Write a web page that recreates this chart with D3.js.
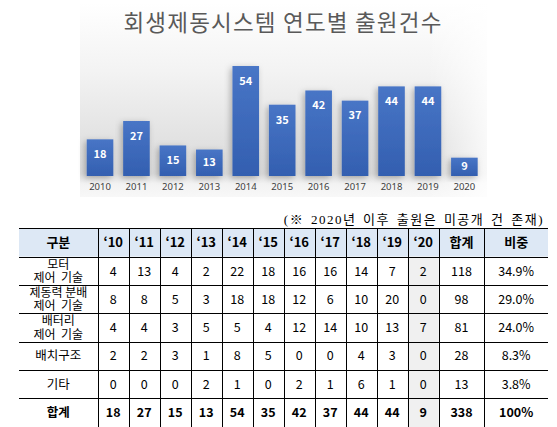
<!DOCTYPE html>
<html>
<head>
<meta charset="utf-8">
<script src="https://cdn.jsdelivr.net/npm/d3@7"></script>
<style>
  body { margin: 0; background: #fff; }
  svg { display: block; font-family: "Noto Sans CJK KR", "Noto Sans", sans-serif; }
</style>
</head>
<body>
<div id="chart"></div>
<script>
// chart data
var years = ['2010', '2011', '2012', '2013', '2014', '2015', '2016', '2017', '2018', '2019', '2020'];
var totals = [18, 27, 15, 13, 54, 35, 42, 37, 44, 44, 9];

// table data
var yearHeads = ['‘10', '‘11', '‘12', '‘13', '‘14', '‘15', '‘16', '‘17', '‘18', '‘19', '‘20'];
var categories = [['모터', '제어\u00a0\u00a0기술'], ['제동력 분배', '제어\u00a0\u00a0기술'], ['배터리', '제어\u00a0\u00a0기술'], ['배치구조'], ['기타']];
var motor = [4, 13, 4, 2, 22, 18, 16, 16, 14, 7, 2];
var braking = [8, 8, 5, 3, 18, 18, 12, 6, 10, 20, 0];
var battery = [4, 4, 3, 5, 5, 4, 12, 14, 10, 13, 7];
var placement = [2, 2, 3, 1, 8, 5, 0, 0, 4, 3, 0];
var others = [0, 0, 0, 2, 1, 0, 2, 1, 6, 1, 0];
var rowSums = [118, 98, 81, 28, 13];
var shares = ['34.9%', '29.0%', '24.0%', '8.3%', '3.8%'];
var grandTotal = 338;
var grandShare = '100%';

var W = 557, H = 427;

var svg = d3.select('#chart').append('svg')
    .attr('width', W)
    .attr('height', H);

var defs = svg.append('defs');

var bg = defs.append('linearGradient').attr('id', 'bg')
    .attr('x1', 0).attr('y1', 0).attr('x2', 0).attr('y2', 1);
bg.append('stop').attr('offset', '0%').attr('stop-color', '#ffffff');
bg.append('stop').attr('offset', '35%').attr('stop-color', '#f3f3f3');
bg.append('stop').attr('offset', '70%').attr('stop-color', '#e2e2e2');
bg.append('stop').attr('offset', '88%').attr('stop-color', '#dcdcdc');
bg.append('stop').attr('offset', '93%').attr('stop-color', '#f2f2f2');
bg.append('stop').attr('offset', '100%').attr('stop-color', '#f8f8f8');

var fadeR = defs.append('linearGradient').attr('id', 'fadeR')
    .attr('x1', 0).attr('y1', 0).attr('x2', 1).attr('y2', 0);
fadeR.append('stop').attr('offset', '0%').attr('stop-color', '#fff').attr('stop-opacity', 0);
fadeR.append('stop').attr('offset', '100%').attr('stop-color', '#fff').attr('stop-opacity', 0.8);

var barFill = defs.append('linearGradient').attr('id', 'barFill')
    .attr('x1', 0).attr('y1', 0).attr('x2', 0).attr('y2', 1);
barFill.append('stop').attr('offset', '0%').attr('stop-color', '#4875c6');
barFill.append('stop').attr('offset', '100%').attr('stop-color', '#335fb0');

var shadow = defs.append('filter').attr('id', 'shadow')
    .attr('x', '-30%').attr('y', '-30%').attr('width', '160%').attr('height', '160%');
shadow.append('feDropShadow')
    .attr('dx', -2).attr('dy', 2).attr('stdDeviation', 3)
    .attr('flood-color', '#000').attr('flood-opacity', 0.28);

// ---------- bar chart ----------
var box = { left: 80, top: 3, width: 407, height: 194 };

svg.append('rect')
    .attr('x', box.left).attr('y', box.top)
    .attr('width', box.width).attr('height', box.height)
    .attr('fill', 'url(#bg)');
svg.append('rect')
    .attr('x', box.left + box.width - 60).attr('y', box.top)
    .attr('width', 60).attr('height', box.height)
    .attr('fill', 'url(#fadeR)');

svg.append('text')
    .attr('x', 283)
    .attr('y', 31)
    .attr('text-anchor', 'middle')
    .style('font-size', '22.5px')
    .style('letter-spacing', '1.2px')
    .style('fill', '#595959')
    .text('회생제동시스템 연도별 출원건수');

var x = d3.scaleBand()
    .domain(years)
    .range([81.8, 482.6])
    .paddingInner(0.27)
    .paddingOuter(0.135);

var y = d3.scaleLinear()
    .domain([0, 60])
    .range([176, 53.8]);

var bars = svg.append('g');
bars.selectAll('.bar')
    .data(totals)
    .enter()
    .append('rect')
    .attr('class', 'bar')
    .attr('x', (d, i) => x(years[i]))
    .attr('y', d => y(d))
    .attr('width', x.bandwidth())
    .attr('height', d => y(0) - y(d))
    .attr('fill', 'url(#barFill)')
    .attr('filter', 'url(#shadow)');

bars.selectAll('.val')
    .data(totals)
    .enter()
    .append('text')
    .attr('class', 'val')
    .attr('x', (d, i) => x(years[i]) + x.bandwidth() / 2)
    .attr('y', d => Math.min(y(d) + 15, (y(d) + y(0)) / 2 - 1))
    .attr('dy', '0.35em')
    .attr('text-anchor', 'middle')
    .style('font-size', '11px')
    .style('font-weight', 'bold')
    .style('fill', '#ffffff')
    .text(d => d);

var xAxis = d3.axisBottom(x).tickSize(0).tickPadding(7);
var gx = svg.append('g')
    .attr('transform', 'translate(0,' + y(0) + ')')
    .call(xAxis);
gx.select('.domain').remove();
gx.selectAll('text')
    .style('font-family', '"Noto Sans", sans-serif')
    .style('font-size', '9.5px')
    .style('fill', '#404040');

// ---------- note ----------
svg.append('text')
    .attr('x', 544)
    .attr('y', 223.5)
    .attr('text-anchor', 'end')
    .style('font-family', '"Liberation Serif", "Noto Sans CJK KR", serif')
    .style('font-size', '13px')
    .style('letter-spacing', '1.5px')
    .style('word-spacing', '2px')
    .style('fill', '#000')
    .text('(※ 2020년 이후 출원은 미공개 건 존재)');

// ---------- table ----------
var colKeys = ['구분'].concat(yearHeads, ['합계', '비중']);
var colWidths = [78.7].concat(yearHeads.map(() => 31), [45.6, 63.7]);
var colEdges = [19];
colWidths.forEach((w, i) => colEdges.push(colEdges[i] + w));
var col = d3.scaleOrdinal().domain(colKeys).range(colEdges.slice(0, -1));
var colW = d3.scaleOrdinal().domain(colKeys).range(colWidths);

var seriesRows = [motor, braking, battery, placement, others];
var rows = [];
rows.push({ kind: 'head', cells: colKeys.map(k => [k]) });
seriesRows.forEach((vals, r) => {
    rows.push({ kind: 'body', cells: [categories[r]].concat(vals.map(v => [v]), [[rowSums[r]], [shares[r]]]) });
});
rows.push({ kind: 'total', cells: [['합계']].concat(totals.map(v => [v]), [[grandTotal], [grandShare]]) });

var row = d3.scaleBand()
    .domain(d3.range(rows.length))
    .range([228.3, 228.3 + rows.length * 28.3]);

var table = svg.append('g');

// header background
table.append('rect')
    .attr('x', colEdges[0]).attr('y', row(0))
    .attr('width', colEdges[colEdges.length - 1] - colEdges[0])
    .attr('height', row.bandwidth())
    .attr('fill', '#dde8f5');

// '20 column shading
table.append('rect')
    .attr('x', col('‘20')).attr('y', row(1))
    .attr('width', colW('‘20'))
    .attr('height', H - row(1))
    .attr('fill', '#f0f0f0');

// cells
rows.forEach((r, ri) => {
    var g = table.append('g');
    g.selectAll('text')
        .data(r.cells)
        .enter()
        .append('text')
        .attr('x', (d, ci) => col(colKeys[ci]) + colW(colKeys[ci]) / 2)
        .attr('y', row(ri) + row.bandwidth() / 2 + 1)
        .attr('text-anchor', 'middle')
        .style('font-weight', r.kind === 'body' ? 'normal' : 'bold')
        .style('font-size', (d, ci) => r.kind === 'head' ? '13px' : (ci === 0 && d.length > 1 ? '12px' : '12.5px'))
        .style('fill', '#000')
        .each(function (d) {
            var t = d3.select(this);
            var n = d.length;
            d.forEach((line, li) => {
                t.append('tspan')
                    .attr('x', t.attr('x'))
                    .attr('dy', li === 0 ? ((0.3 - (n - 1) * 0.57) + 'em') : '1.14em')
                    .text(line);
            });
        });
});

// horizontal lines
table.selectAll('.hline')
    .data(d3.range(rows.length))
    .enter()
    .append('line')
    .attr('class', 'hline')
    .attr('x1', colEdges[0]).attr('x2', colEdges[colEdges.length - 1])
    .attr('y1', d => Math.round(row(d)) + 0.5)
    .attr('y2', d => Math.round(row(d)) + 0.5)
    .attr('stroke', '#000')
    .attr('stroke-width', 1);

// vertical lines
table.selectAll('.vline')
    .data(colEdges.slice(1, -1))
    .enter()
    .append('line')
    .attr('class', 'vline')
    .attr('x1', d => Math.round(d) + 0.5).attr('x2', d => Math.round(d) + 0.5)
    .attr('y1', row(0)).attr('y2', H)
    .attr('stroke', '#000')
    .attr('stroke-width', 1);
</script>
</body>
</html>
